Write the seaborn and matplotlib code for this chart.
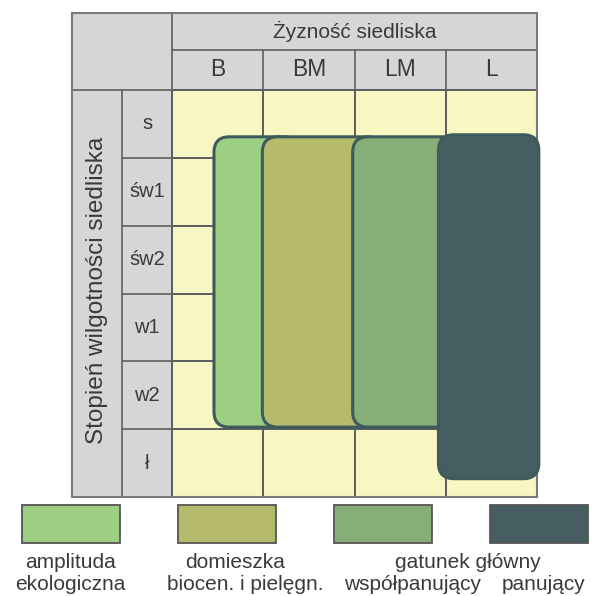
import numpy as np
import pandas as pd
import seaborn as sns
import matplotlib
matplotlib.use("Agg")
import matplotlib.pyplot as plt
from matplotlib.colors import ListedColormap
from matplotlib.patches import FancyBboxPatch, Rectangle

# ---------------- data ----------------
fertility = ["B", "BM", "LM", "L"]
moisture = ["s", "św1", "św2", "w1", "w2", "ł"]
col_title = "Żyzność siedliska"
row_title = "Stopień wilgotności siedliska"

# ranges of each class on the grid (column / row units)
range_names = ["amplituda ekologiczna", "domieszka biocen. i pielęgn.",
               "gatunek główny współpanujący", "gatunek główny panujący"]
fert_from = [0.46, 0.99, 1.98, 2.92]
fert_to = [1.40, 2.30, 3.20, 4.02]
moist_from = [0.69, 0.69, 0.69, 0.66]
moist_to = [4.97, 4.97, 4.97, 5.73]
range_colors = ["#9dcf83", "#b6ba6b", "#87ae76", "#465e62"]

legend_line1 = ["amplituda", "domieszka", "gatunek główny", ""]
legend_line2 = ["ekologiczna", "biocen. i pielęgn.", "współpanujący", "panujący"]

# ---------------- style ----------------
sns.set_style("white")
plt.rcParams["font.family"] = ["Liberation Sans", "DejaVu Sans"]
TXT = "#3a3a3a"
GRAY = "#d5d6d8"
YEL = "#f8f6c2"
LINE = "#5f5f5f"
OUTL = "#3d5a5d"

W, H = 597, 596
fig = plt.figure(figsize=(W / 100, H / 100), dpi=100)
fig.patch.set_facecolor("white")

# main table axes (pixel layout)
L_px, R_px, T_px, B_px = 72, 537, 13, 497
ax = fig.add_axes([L_px / W, 1 - B_px / H, (R_px - L_px) / W, (B_px - T_px) / H])
ax.set_facecolor(GRAY)

grid = pd.DataFrame(np.ones((len(moisture), len(fertility))),
                    index=moisture, columns=fertility)
sns.heatmap(grid, cmap=ListedColormap([YEL]), cbar=False, linewidths=1.2,
            linecolor=LINE, ax=ax)

colw = (R_px - 172) / len(fertility)
rowh = (B_px - 90) / len(moisture)
xl = -(172 - L_px) / colw
yt = -(90 - T_px) / rowh
yh = -(90 - 50) / rowh
ax.set_xlim(xl, len(fertility))
ax.set_ylim(len(moisture), yt)
ax.set_xticks([])
ax.set_yticks([])
for s in ax.spines.values():
    s.set_visible(True)
    s.set_color("#7a7a7a")
    s.set_linewidth(1.5)

# table lines outside the data grid
ax.plot([0, 0], [yt, len(moisture)], color=LINE, lw=1.2)
ax.plot([xl / 2, xl / 2], [0, len(moisture)], color=LINE, lw=1.2)
ax.plot([xl, len(fertility)], [0, 0], color=LINE, lw=1.2)
ax.plot([0, len(fertility)], [yh, yh], color=LINE, lw=1.2)
for i in range(1, len(fertility)):
    ax.plot([i, i], [yh, 0], color=LINE, lw=1.2)
for j in range(1, len(moisture)):
    ax.plot([xl / 2, 0], [j, j], color=LINE, lw=1.2)

# header texts
ax.text(len(fertility) / 2, (yt + yh) / 2, col_title, ha="center", va="center",
        fontsize=15, color=TXT)
for i, f in enumerate(fertility):
    ax.text(i + 0.5, yh / 2, f, ha="center", va="center", fontsize=16.5, color=TXT)
for j, m in enumerate(moisture):
    ax.text(xl / 4, j + 0.5, m, ha="center", va="center", fontsize=14.5, color=TXT)
ax.text(xl * 0.75, 2.96, row_title, rotation=90, ha="center", va="center",
        fontsize=17.5, color=TXT)

# range overlays
aspect = colw / rowh
for x0, x1, y0, y1, c in zip(fert_from, fert_to, moist_from, moist_to, range_colors):
    p = FancyBboxPatch((x0, y0), x1 - x0, y1 - y0,
                       boxstyle="round,pad=0,rounding_size=0.17",
                       mutation_aspect=aspect, facecolor=c, edgecolor=OUTL,
                       lw=2.2, zorder=5, clip_on=False)
    ax.add_patch(p)

# ---------------- legend ----------------
lg = fig.add_axes([0, 0, 1, 96 / H])
lg.set_xlim(0, W)
lg.set_ylim(H, H - 96)
lg.axis("off")
step = 156
for k, c in enumerate(range_colors):
    cx = 70.5 + k * step
    lg.add_patch(Rectangle((cx - 49, 505), 98, 38, facecolor=c,
                           edgecolor="#555555", lw=1.3))
lg.text(70, 562, legend_line1[0], ha="center", va="center", fontsize=15, color=TXT)
lg.text(70, 584, legend_line2[0], ha="center", va="center", fontsize=15, color=TXT)
lg.text(235, 562, legend_line1[1], ha="center", va="center", fontsize=15, color=TXT)
lg.text(245, 584, legend_line2[1], ha="center", va="center", fontsize=15, color=TXT)
lg.text(468, 562, legend_line1[2], ha="center", va="center", fontsize=15, color=TXT)
lg.text(413, 584, legend_line2[2], ha="center", va="center", fontsize=15, color=TXT)
lg.text(544, 584, legend_line2[3], ha="center", va="center", fontsize=15, color=TXT)

fig.savefig("out.png", dpi=100, facecolor="white")
